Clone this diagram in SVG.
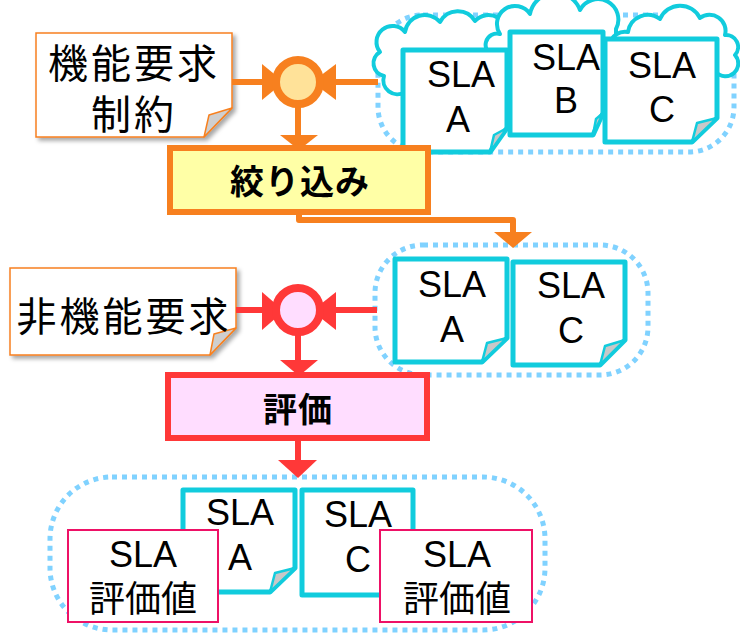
<svg xmlns="http://www.w3.org/2000/svg" width="740" height="633" viewBox="0 0 740 633">
<defs>
<filter id="sh" x="-10%" y="-10%" width="130%" height="130%">
<feDropShadow dx="3" dy="3" stdDeviation="2" flood-color="#000" flood-opacity="0.35"/>
</filter>
<style>
.grp{fill:none;stroke:#80D2FF;stroke-width:5;stroke-dasharray:5 5}
.cloud{fill:#fff;stroke:#11CCDD;stroke-width:4;stroke-linejoin:round}
.sla{fill:#fff;stroke:#11CCDD;stroke-width:5;stroke-linejoin:round}
.fold{fill:#C8C8C8;stroke:#11CCDD;stroke-width:2.5;stroke-linejoin:round}
.req{fill:#fff;stroke:#F7801F;stroke-width:1.5}
.reqfold{fill:#CFCFCF;stroke:#F7801F;stroke-width:1.5;stroke-linejoin:round}
.val{fill:#fff;stroke:#EE1166;stroke-width:2}
.t{font-family:'Liberation Sans','Noto Sans CJK JP',sans-serif;font-size:36px;fill:#000;text-anchor:middle}
.j{font-family:'Noto Sans CJK JP','Liberation Sans',sans-serif;fill:#000;text-anchor:middle}
.big{font-size:40px;letter-spacing:3px}
.bold{font-size:34px;font-weight:bold;letter-spacing:1px}
.o{stroke:#F7801F;stroke-width:6;fill:none}
.r{stroke:#FF3838;stroke-width:6;fill:none}
.oh{fill:#F7801F}
.rh{fill:#FF3838}
</style>
</defs>
<rect width="740" height="633" fill="#fff"/>

<g id="group-top">
<rect class="grp" x="378" y="15" width="356" height="137" rx="45"/>
<path class="cloud" d="M405 92 A14 14 0 0 1 384 76 A13 13 0 0 1 380 52 A16 16 0 0 1 405 32 A20 20 0 0 1 440 22 A20 20 0 0 1 475 21 A18 18 0 0 1 505 40 L505 92 Z"/>
<path class="cloud" d="M512 72 A11 11 0 0 1 494 56 A11 11 0 0 1 500 34 A18 18 0 0 1 530 14 A26 26 0 0 1 580 10 A20 20 0 0 1 616 29 L616 72 Z"/>
<path class="cloud" d="M622 62 A15 15 0 0 1 628 32 A20 20 0 0 1 660 19 A22 22 0 0 1 700 18 A16 16 0 0 1 725 35 A12 12 0 0 1 735 55 A11 11 0 0 1 716 72 Z"/>
</g>
<g id="sla-a-top">
<path class="sla" d="M403 50 H507 V128 L490 152 H403 Z"/>
<path class="fold" d="M507 128 L490 152 L494 135 Z"/>
<text class="t"><tspan x="461" y="87">SLA</tspan><tspan x="458" y="132">A</tspan></text>
</g>
<g id="sla-b-top">
<path class="sla" d="M510 32 H603 V113 L593 135 H510 Z"/>
<path class="fold" d="M603 113 L593 135 L596 119 Z"/>
<text class="t"><tspan x="566" y="70">SLA</tspan><tspan x="566" y="113">B</tspan></text>
</g>
<g id="sla-c-top">
<path class="sla" d="M605 39 H717 V118 L692 142 H605 Z"/>
<path class="fold" d="M717 118 L692 142 L697 123 Z"/>
<text class="t"><tspan x="662" y="78">SLA</tspan><tspan x="662" y="122">C</tspan></text>
</g>

<g id="req-functional">
<path class="req" filter="url(#sh)" d="M36 33 H232 V108 L204 137 H36 Z"/>
<path class="reqfold" d="M232 108 L204 137 L209 115 Z"/>
<text class="j big"><tspan x="134" y="78">機能要求</tspan><tspan x="134" y="129">制約</tspan></text>
</g>

<g id="filter-box">
<rect x="170" y="148" width="258" height="64" fill="#FFFFA6" stroke="#F7801F" stroke-width="6"/>
<text class="j bold" x="300" y="194">絞り込み</text>
</g>

<g id="group-mid">
<rect class="grp" x="375" y="245" width="273" height="130" rx="48"/>
</g>
<g id="sla-a-mid">
<path class="sla" d="M395 259 H507 V338 L482 362 H395 Z"/>
<path class="fold" d="M507 338 L482 362 L487 343 Z"/>
<text class="t"><tspan x="452" y="297">SLA</tspan><tspan x="452" y="342">A</tspan></text>
</g>
<g id="sla-c-mid">
<path class="sla" d="M513 262 H625 V340 L600 365 H513 Z"/>
<path class="fold" d="M625 340 L600 365 L605 346 Z"/>
<text class="t"><tspan x="571" y="298">SLA</tspan><tspan x="571" y="343">C</tspan></text>
</g>

<g id="req-nonfunctional">
<path class="req" filter="url(#sh)" d="M10 268 H236 V328 L210 355 H10 Z"/>
<path class="reqfold" d="M236 328 L210 355 L214 334 Z"/>
<text class="j big" x="124" y="331">非機能要求</text>
</g>

<g id="eval-box">
<rect x="168" y="375" width="259" height="63" fill="#FFDDFF" stroke="#FF3838" stroke-width="6"/>
<text class="j bold" x="298" y="422">評価</text>
</g>

<g id="group-bottom">
<rect class="grp" x="50" y="477" width="495" height="153" rx="62"/>
</g>
<g id="sla-a-bottom">
<path class="sla" d="M183 490 H295 V568 L270 592 H183 Z"/>
<path class="fold" d="M295 568 L270 592 L275 573 Z"/>
<text class="t"><tspan x="240" y="525">SLA</tspan><tspan x="240" y="570">A</tspan></text>
</g>
<g id="sla-c-bottom">
<path class="sla" d="M302 490 H413 V595 H302 Z"/>
<text class="t"><tspan x="358" y="527">SLA</tspan><tspan x="358" y="572">C</tspan></text>
</g>
<g id="value-a">
<rect class="val" x="68" y="530" width="150" height="92"/>
<text class="t"><tspan x="143" y="567">SLA</tspan><tspan x="143" y="612" style="font-family:'Noto Sans CJK JP',sans-serif">評価値</tspan></text>
</g>
<g id="value-c">
<rect class="val" x="380" y="530" width="152" height="92"/>
<text class="t"><tspan x="457" y="567">SLA</tspan><tspan x="457" y="612" style="font-family:'Noto Sans CJK JP',sans-serif">評価値</tspan></text>
</g>

<g id="connectors">
<path class="o" d="M232 82 H264"/>
<path class="o" d="M378 82 H334"/>
<path class="o" d="M298 106 V137"/>
<path class="o" d="M299 209 V220 H513 V234" stroke-linejoin="round"/>
<path class="r" d="M236 310 H264"/>
<path class="r" d="M377 310 H334"/>
<path class="r" d="M298 334 V362"/>
<path class="r" d="M298 441 V462"/>
<polygon class="oh" points="262,64 262,100 284,82"/>
<polygon class="oh" points="336,64 336,100 312,82"/>
<polygon class="oh" points="280,135 318,135 299,150"/>
<polygon class="oh" points="494,232 532,232 513,248"/>
<polygon class="rh" points="262,292 262,330 284,311"/>
<polygon class="rh" points="336,292 336,330 312,311"/>
<polygon class="rh" points="280,360 318,360 299,376"/>
<polygon class="rh" points="278,460 317,460 298,478"/>
</g>

<g id="merge-top">
<circle cx="298" cy="82" r="22" fill="#FFE299" stroke="#F7801F" stroke-width="8"/>
</g>
<g id="merge-mid">
<circle cx="298" cy="310" r="22" fill="#FFDDFF" stroke="#FF3838" stroke-width="8"/>
</g>
</svg>
